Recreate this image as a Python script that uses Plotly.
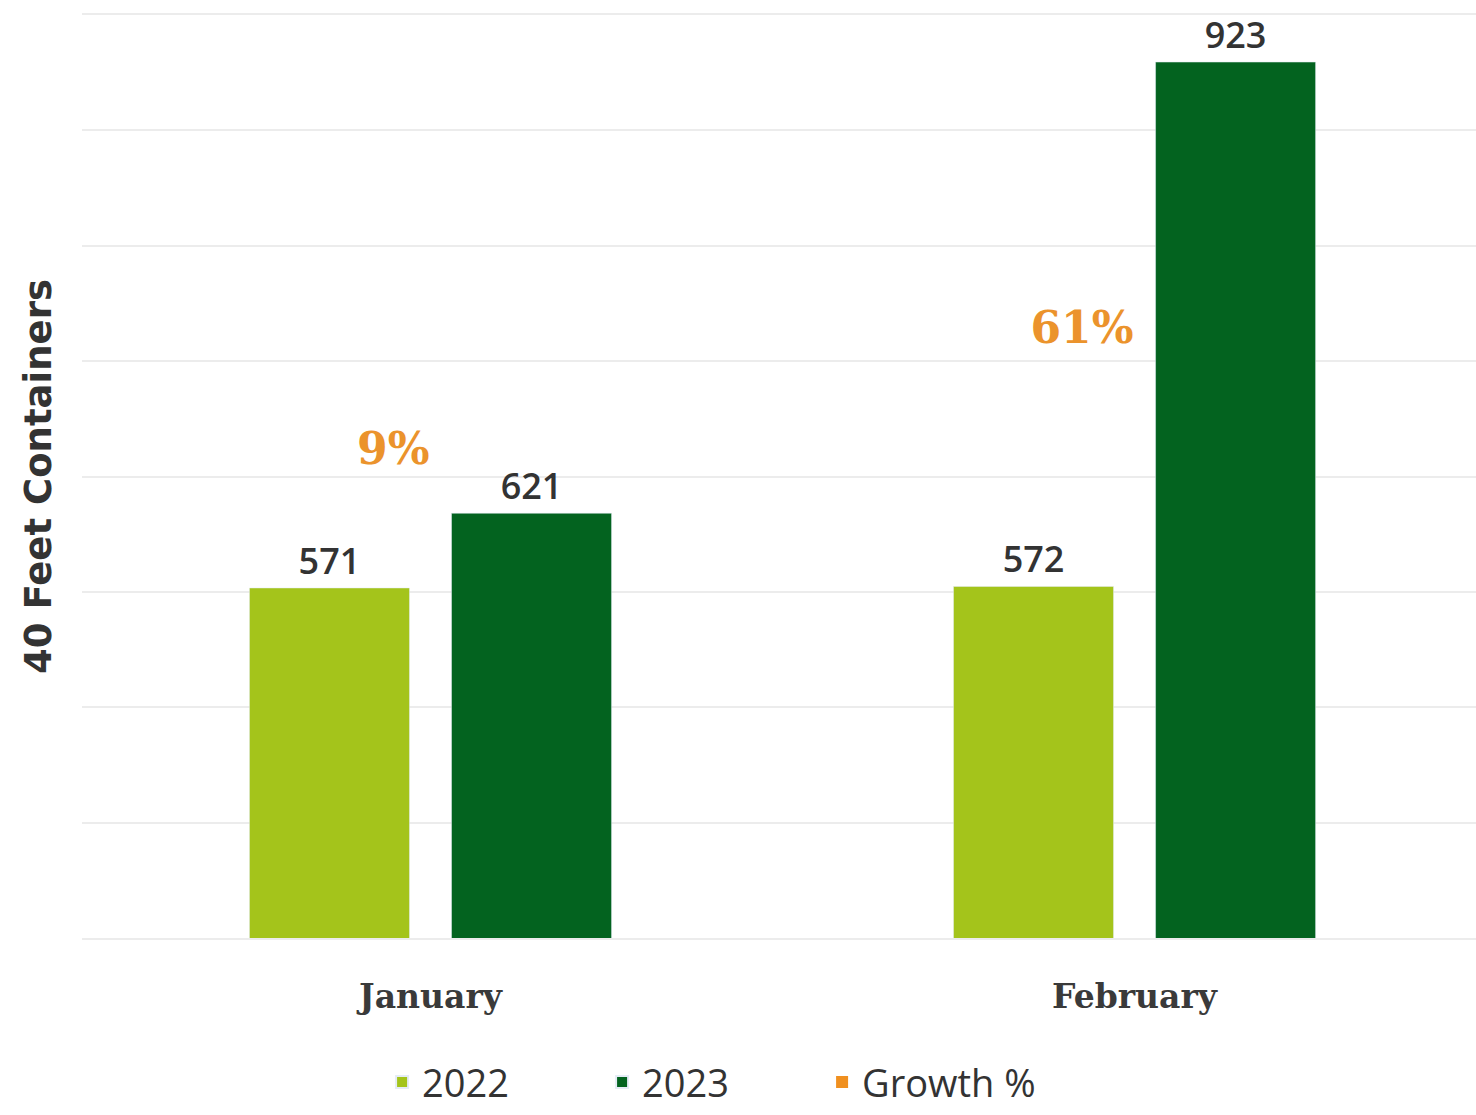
import plotly.graph_objects as go

months = ["January", "February"]
values_2022 = [571, 572]
values_2023 = [621, 923]
growth_pct = [9, 61]

C2022 = "#a4c41b"
C2023 = "#03631f"
CGROW = "#f0901f"
TXT = "#333333"
GRID = "#ececec"

fig = go.Figure()
fig.add_trace(go.Bar(
    name="2022", x=months, y=values_2022, marker_color=C2022,
    texttemplate="%{y}", textposition="outside", cliponaxis=False,
    textfont=dict(family="Open Sans", size=36, color=TXT, weight=600),
))
fig.add_trace(go.Bar(
    name="2023", x=months, y=values_2023, marker_color=C2023,
    texttemplate="%{y}", textposition="outside", cliponaxis=False,
    textfont=dict(family="Open Sans", size=36, color=TXT, weight=600),
))
fig.add_trace(go.Scatter(
    name="Growth %", x=months, y=growth_pct, yaxis="y2",
    mode="markers+text", text=[f"{g}%" for g in growth_pct],
    textposition="middle left", cliponaxis=False,
    marker=dict(symbol="square", size=0.001, color=CGROW),
    textfont=dict(family="DejaVu Serif", size=44, color="#eb932c", weight="bold"),
))

fig.update_layout(
    width=1476, height=1115,
    margin=dict(l=82, r=0, t=15, b=177),
    paper_bgcolor="white", plot_bgcolor="white",
    barmode="group", bargap=0.426, bargroupgap=0.208,
    showlegend=True,
    legend=dict(orientation="h", x=0.452, xanchor="center", y=-0.1905, yanchor="bottom",
                font=dict(family="Open Sans", size=38, color=TXT),
                entrywidth=175, itemsizing="constant", traceorder="normal"),
    xaxis=dict(range=[-0.495, 1.485], showgrid=False, zeroline=False,
               showline=True, mirror=True, linecolor=GRID, linewidth=2,
               ticks="", ticklabelstandoff=28,
               tickfont=dict(family="DejaVu Serif", size=33, color="#3a3a3a", weight="bold")),
    yaxis=dict(range=[336.7, 954.5], tick0=336.7, dtick=77.225, showticklabels=False,
               showgrid=True, gridcolor=GRID, gridwidth=2, zeroline=False,
               automargin=False,
               title=dict(text="40 Feet Containers", standoff=18,
                          font=dict(family="DejaVu Sans", size=37, color=TXT, weight="bold"))),
    yaxis2=dict(overlaying="y", range=[-199.5, 197.2], visible=False, showgrid=False),
)

fig.write_html("out.html", config={"displayModeBar": False},
               post_script="document.body.style.margin='0';")
